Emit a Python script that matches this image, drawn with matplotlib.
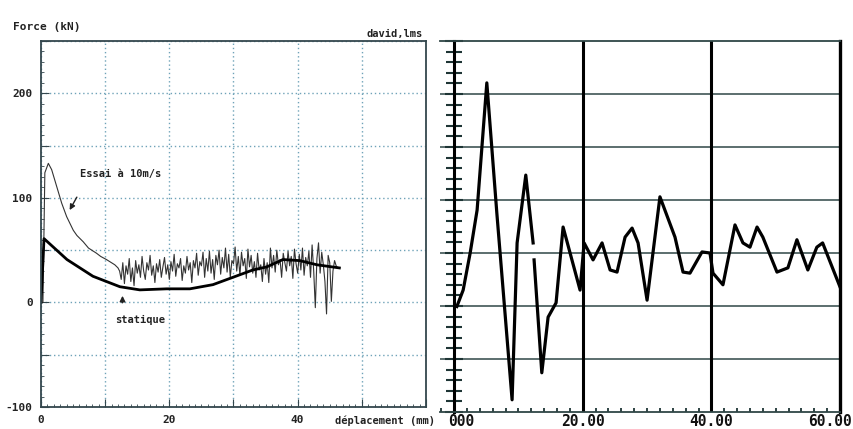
import numpy as np
import matplotlib
matplotlib.use('Agg')
import matplotlib.pyplot as plt
from matplotlib.ticker import MultipleLocator

# --- left chart: force vs displacement ---
# dynamic test, decay part (mm, kN)
essai_x_start = [0.3, 0.45, 0.6, 1.14, 1.66, 2.44, 3.22, 4.0, 5.03, 5.6, 6.58, 7.4, 8.66, 9.3, 10.2, 11.5, 12.0]
essai_y_start = [0, 60, 124, 133, 127, 111, 95, 82, 69, 64, 58, 52, 47, 44, 41, 36, 33]
# noisy plateau, read every 0.25 mm from 12.25 to 46.25 mm
essai_y_noise = [30, 22, 38, 18, 35, 27, 42, 20,
                 33, 16, 40, 28, 36, 24, 44, 30,
                 22, 38, 31, 45, 26, 35, 19, 37,
                 29, 41, 24, 34, 43, 27, 36, 22,
                 39, 30, 46, 25, 37, 33, 42, 21,
                 35, 28, 44, 31, 38, 19, 40, 33,
                 47, 26, 39, 35, 48, 24, 42, 30,
                 49, 28, 41, 22, 45, 36, 50, 27,
                 43, 33, 52, 29, 46, 24, 40, 37,
                 53, 30, 44, 26, 48, 35, 42, 23,
                 51, 34, 45, 28, 39, 24, 47, 31,
                 36, 20, 42, 27, 38, 19, 52, 33,
                 45, 29, 50, 36, 41, 24, 47, 38,
                 30, 49, 35, 44, 23, 51, 37, 28,
                 46, 31, 52, 26, 43, 35, 49, 24,
                 55, 30, -5, 42, 57, 28, 48, 36,
                 20, -11, 45, 38, 1, 30, 40, 35,
                 33]
essai_x_noise = np.arange(len(essai_y_noise)) * 0.25 + 12.25

statique_x = [0.0, 0.47, 4.05, 8.1, 12.3, 15.4, 19.6, 23.2, 26.8, 29.9, 33.0, 35.2, 37.7, 40.3, 43.0, 46.5]
statique_y = [0, 61, 41, 25, 15, 12, 13, 13, 17, 24, 31, 34, 41, 40, 36, 33]

# --- right chart: trace (arbitrary units) ---
trace_x = [0.42, 1.40, 2.49, 3.57, 5.08, 6.64, 9.01, 9.79, 11.14, 12.28, np.nan,
           12.43, 13.63, 14.61, 15.85, 16.94, 19.58, 20.21, 21.60, 23.00, 24.25,
           25.33, 26.58, 27.67, 28.60, 30.0, 32.0, 34.34, 35.59, 36.67, 38.54,
           39.78, 40.25, 41.80, 43.67, 44.91, 46.0, 47.1, 48.0, 50.2, 51.9,
           53.3, 55.0, 56.4, 57.3, 60.0]
trace_y = [1.99, 2.30, 3.00, 3.81, 6.21, 3.75, 0.23, 3.19, 4.47, 3.19, np.nan,
           2.87, 0.74, 1.79, 2.06, 3.49, 2.30, 3.19, 2.87, 3.19, 2.68,
           2.64, 3.30, 3.47, 3.19, 2.11, 4.06, 3.30, 2.64, 2.62, 3.02,
           3.00, 2.62, 2.40, 3.53, 3.19, 3.11, 3.49, 3.30, 2.64, 2.72,
           3.25, 2.68, 3.11, 3.19, 2.36]
trace_xlabels = ['000', '20.00', '40.00', '60.00']
trace_xlabel_pos = [-0.9, 20, 40, 61.8]
trace_xlabel_ha = ['left', 'center', 'center', 'right']

W, H = 854, 429
fig = plt.figure(figsize=(W / 100, H / 100), dpi=100)
mono = 'DejaVu Sans Mono'
frame_col = '#34474d'
grid_col = '#6fa3b8'

# ---------------- left chart ----------------
ax1 = fig.add_axes([41 / W, 22 / H, 385 / W, 366 / H])
ax1.plot(list(essai_x_start) + list(essai_x_noise), essai_y_start + essai_y_noise,
         color='#333333', lw=0.8)
ax1.plot(statique_x, statique_y, color='black', lw=2.0)
ax1.set_xlim(0, 60)
ax1.set_ylim(-100, 250)
ax1.set_xticks(range(0, 61, 10))
ax1.set_xticklabels(['0', '', '20', '', '40', '', ''])
ax1.set_yticks(range(-100, 251, 50))
ax1.set_yticklabels(['-100', '', '0', '', '100', '', '200', ''])
ax1.xaxis.set_minor_locator(MultipleLocator(1))
ax1.yaxis.set_minor_locator(MultipleLocator(10))
ax1.tick_params(which='major', direction='in', length=6, color=frame_col, pad=6,
                labelsize=8, labelcolor='#222222')
ax1.tick_params(which='minor', direction='in', length=2.5, color=frame_col)
for lab in ax1.get_xticklabels() + ax1.get_yticklabels():
    lab.set_fontfamily(mono)
    lab.set_fontweight('bold')
ax1.grid(True, which='major', linestyle=(0, (1, 2)), color=grid_col, lw=1.0)
for sp in ax1.spines.values():
    sp.set_color(frame_col)
    sp.set_linewidth(1.3)

ax1.annotate('', xy=(4.25, 86), xytext=(5.8, 103),
             arrowprops=dict(arrowstyle='-|>', color='#222222', lw=1.0, mutation_scale=8))
ax1.text(6.1, 123, 'Essai à 10m/s', family=mono, fontsize=7.5, fontweight='bold',
         color='#222222', va='center')
ax1.annotate('', xy=(12.7, 9), xytext=(12.7, -3),
             arrowprops=dict(arrowstyle='-|>', color='#222222', lw=1.0, mutation_scale=8))
ax1.text(11.5, -17, 'statique', family=mono, fontsize=7.5, fontweight='bold',
         color='#222222', va='center')

fig.text(13 / W, 1 - 27 / H, 'Force (kN)', family=mono, fontsize=8, fontweight='bold',
         color='#222222', va='center')
fig.text(423 / W, 1 - 34 / H, 'david,lms', family=mono, fontsize=7.5, fontweight='bold',
         color='#222222', va='center', ha='right')
fig.text(335 / W, 1 - 421 / H, 'déplacement (mm)', family=mono, fontsize=7.5,
         fontweight='bold', color='#222222', va='center')

# ---------------- right chart ----------------
ax2 = fig.add_axes([440 / W, 17 / H, 400 / W, 371 / H])
ax2.set_xlim(-2.2, 60)
ax2.set_ylim(0, 7)
for yv in range(1, 7):
    ax2.axhline(yv, color='#2f4646', lw=1.1, zorder=1)
for xv in (20, 40):
    ax2.axvline(xv, color='black', lw=2.2, zorder=2)
ax2.plot(trace_x, trace_y, color='black', lw=2.3, zorder=3)

ax2.spines['left'].set_position(('data', 0))
ax2.spines['left'].set_linewidth(2.2)
ax2.spines['right'].set_linewidth(2.4)
ax2.spines['top'].set_linewidth(1.3)
ax2.spines['bottom'].set_linewidth(1.3)
for sp in ax2.spines.values():
    sp.set_color('black')
ax2.spines['top'].set_color('#2f4646')
ax2.spines['bottom'].set_color('#2f4646')

ax2.set_yticks(range(0, 8))
ax2.yaxis.set_minor_locator(MultipleLocator(0.2))
ax2.set_xticks([0, 20, 40, 60])
ax2.xaxis.set_minor_locator(MultipleLocator(2))
ax2.tick_params(axis='y', which='both', direction='inout', labelleft=False,
                color='#1e3535', width=1.5)
ax2.tick_params(axis='y', which='major', length=13)
ax2.tick_params(axis='y', which='minor', length=11)
ax2.tick_params(axis='x', which='both', direction='in', labelbottom=False,
                color='#1e3535', width=1.3)
ax2.tick_params(axis='x', which='major', length=0)
ax2.tick_params(axis='x', which='minor', length=3)

for lab, xp, ha in zip(trace_xlabels, trace_xlabel_pos, trace_xlabel_ha):
    ax2.text(xp, -0.045, lab, family=mono, fontsize=10.5, fontweight='bold',
             color='#111111', ha=ha, va='top', clip_on=False)

fig.savefig('out.png', dpi=100)
